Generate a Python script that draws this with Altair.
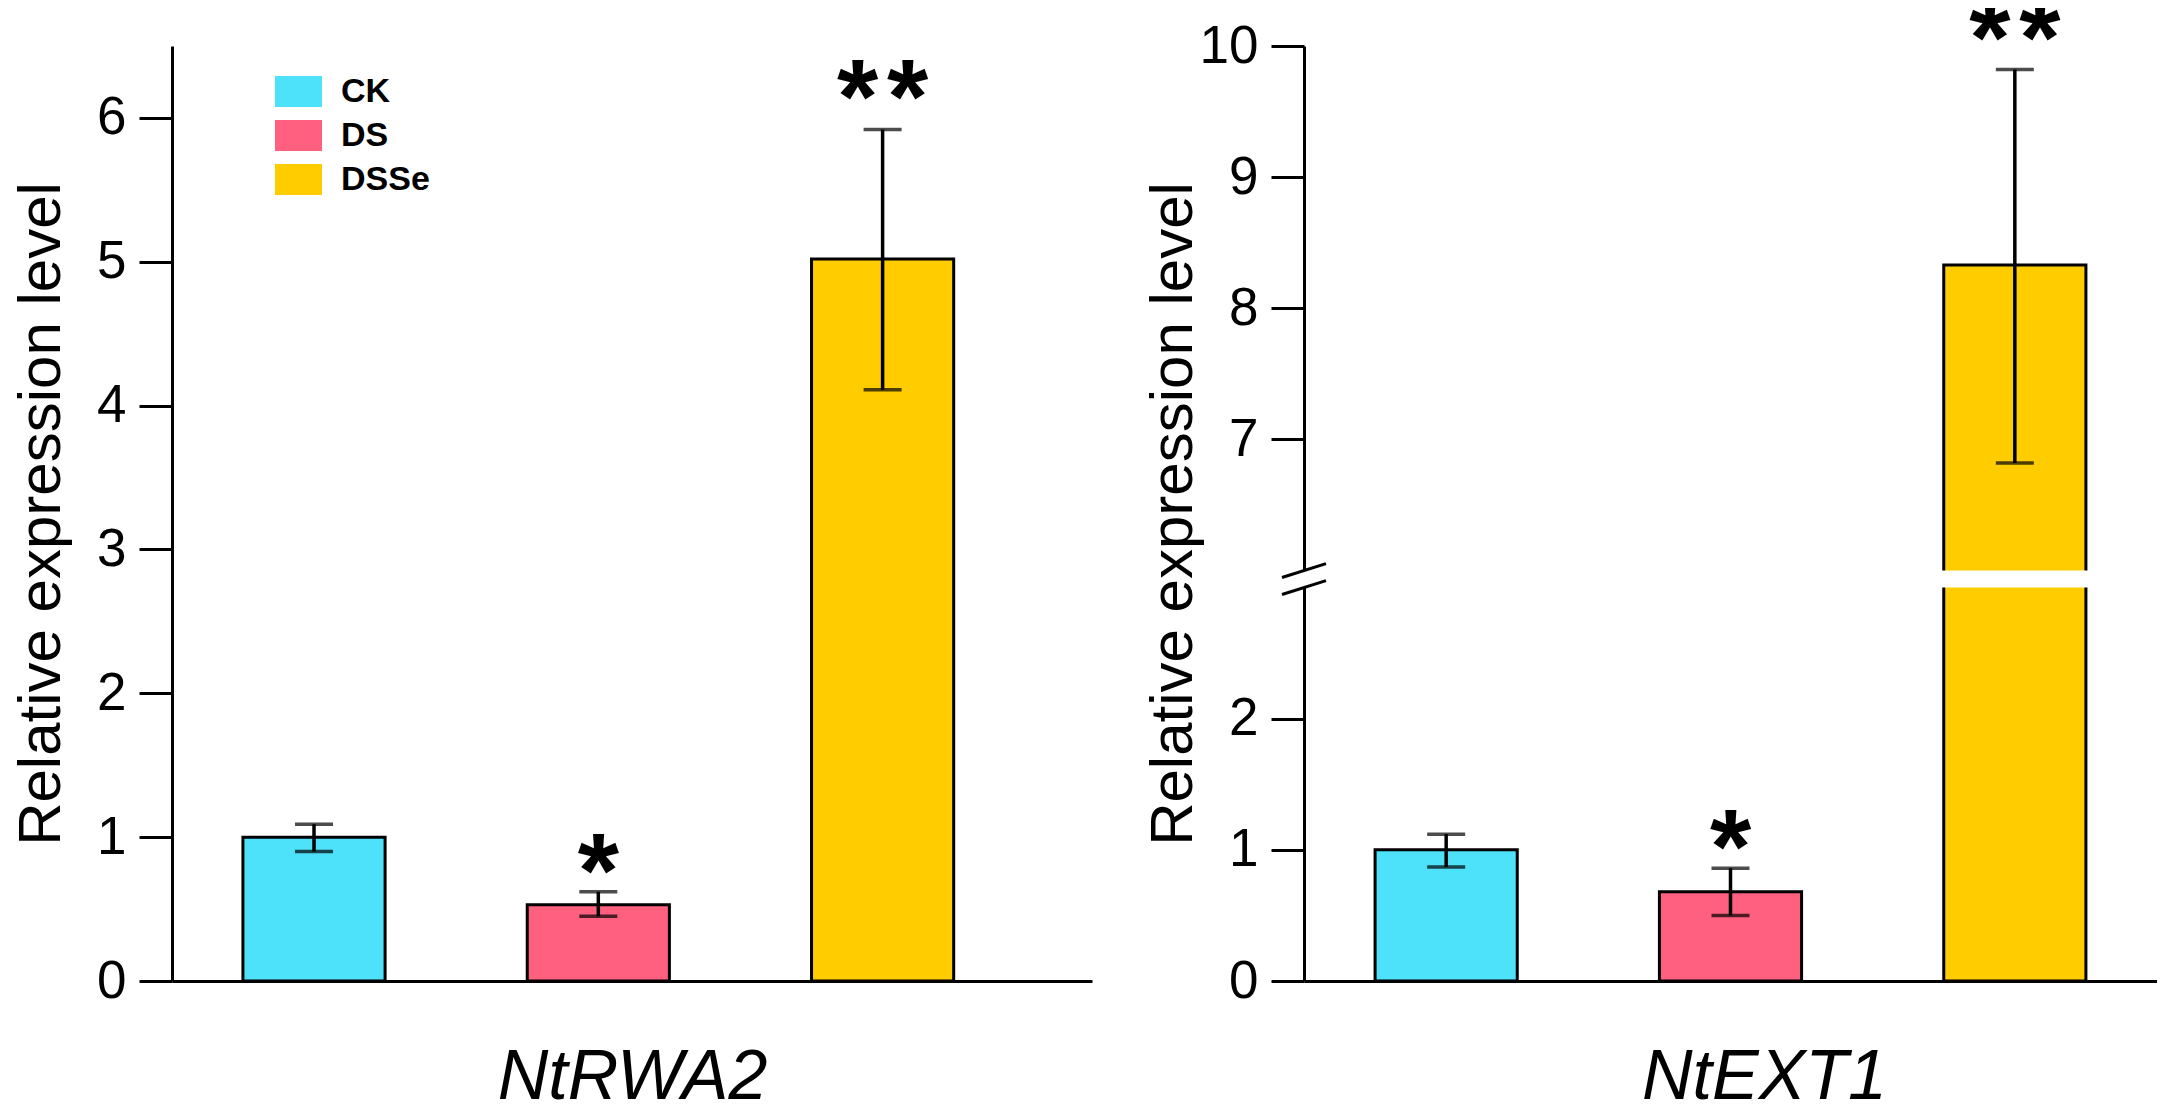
import altair as alt
import pandas as pd

# ---------------- data ----------------
categories = ["CK", "DS", "DSSe"]
bar_colors = ["#4EE1FA", "#FF6080", "#FFCC00"]

rwa2_mean = [1.00, 0.53, 5.02]
rwa2_low = [0.90, 0.45, 4.11]
rwa2_high = [1.09, 0.62, 5.92]
rwa2_sig = ["", "*", "**"]

ext1_mean = [1.00, 0.68, 8.33]
ext1_low = [0.87, 0.50, 6.82]
ext1_high = [1.12, 0.86, 9.82]
ext1_sig = ["", "*", "**"]

left_ticks = [0, 1, 2, 3, 4, 5, 6]
right_ticks = [0, 1, 2, 7, 8, 9, 10]
left_max = 6.5
right_max = 10

# broken axis (right panel)
BREAK_LOW = 3.0    # lower segment ends here
BREAK_HIGH = 6.0   # upper segment starts here
GAP = 0.13         # visual gap, in axis units
OFFSET = BREAK_HIGH - (BREAK_LOW + GAP)


def tr(v):
    return v if v <= BREAK_LOW else v - OFFSET


H = 935
FONT = "Liberation Sans"
STAR_FS = 106


def make_panel(gene, mean, low, high, sig, broken, show_legend, width, p_outer, align):
    f = tr if broken else (lambda v: v)
    df = pd.DataFrame({
        "group": categories,
        "mean": [f(v) for v in mean],
        "low": [f(v) for v in low],
        "high": [f(v) for v in high],
        "sig": [s.replace("**", "*\u200a*") for s in sig],
        "nstar": [s.count("*") for s in sig],
    })
    if broken:
        ticks = [f(v) for v in right_ticks]
        dmax = f(right_max)
        label_expr = (f"datum.value > {BREAK_LOW} ? format(datum.value + {OFFSET}, '.0f')"
                      f" : format(datum.value, '.0f')")
    else:
        ticks = left_ticks
        dmax = left_max
        label_expr = "format(datum.value, '.0f')"

    yscale = alt.Scale(domain=[0, dmax], nice=False, zero=True)
    yaxis = alt.Axis(
        values=ticks, labelExpr=label_expr, title="Relative expression level",
        grid=False, domainColor="black", domainWidth=3, tickColor="black",
        tickWidth=3, tickSize=33, labelPadding=13, labelFontSize=53,
        labelColor="black", labelFont=FONT, labelOverlap=False, labelFlush=False,
        titleFontSize=60, titleFontWeight="normal", titleFont=FONT,
        titleColor="black", titleX=-131, titleY=H / 2, titleBaseline="middle",
        titleAngle=270,
    )
    xscale = alt.Scale(paddingInner=0.5, paddingOuter=p_outer, align=align)
    xenc = alt.X(
        "group:N", sort=categories, scale=xscale,
        axis=alt.Axis(
            title=gene, labels=False, ticks=False, domainColor="black",
            domainWidth=3, titleFontSize=70, titleFontStyle="italic",
            titleFontWeight="normal", titleFont=FONT, titleColor="black",
            titleX=460, titleY=117, titleBaseline="alphabetic",
        ),
    )
    legend = None
    if show_legend:
        legend = alt.Legend(
            orient="none", legendX=103, legendY=22, title=None,
            symbolType="M-1,-0.66H1V0.66H-1Z", symbolSize=2209,
            symbolStrokeWidth=0, symbolOpacity=1, labelFontSize=34,
            labelFontWeight="bold", labelFont=FONT, labelColor="black",
            labelOffset=19, rowPadding=3, padding=0,
        )
    base = alt.Chart(df)
    xg = alt.X("group:N", sort=categories)
    bars = base.mark_bar(stroke="black", strokeWidth=3).encode(
        x=xenc,
        y=alt.Y("mean:Q", scale=yscale, axis=yaxis),
        color=alt.Color("group:N", sort=categories,
                        scale=alt.Scale(domain=categories, range=bar_colors),
                        legend=legend),
    )
    err = base.mark_rule(color="black", strokeWidth=3.5).encode(
        x=xg, y="low:Q", y2="high:Q")
    cap_hi = base.mark_tick(color="black", size=38, thickness=3.5).encode(
        x=xg, y="high:Q")
    cap_lo = base.mark_tick(color="black", size=38, thickness=3.5).encode(
        x=xg, y="low:Q")
    star1 = base.transform_filter("datum.nstar == 1").mark_text(
        fontSize=STAR_FS, fontWeight="bold", font=FONT, baseline="alphabetic",
        dy=15, color="black").encode(x=xg, y="high:Q", text="sig:N")
    star2 = base.transform_filter("datum.nstar == 2").mark_text(
        fontSize=STAR_FS, fontWeight="bold", font=FONT, baseline="alphabetic",
        dy=4, color="black").encode(x=xg, y="high:Q", text="sig:N")
    layers = [bars]
    if broken:
        brk = pd.DataFrame({"lo": [BREAK_LOW], "hi": [BREAK_LOW + GAP]})
        white = alt.Chart(brk).mark_rect(color="white").encode(
            x=alt.value(-25), x2=alt.value(width - 40), y="lo:Q", y2="hi:Q")
        half = 0.053
        marks = pd.DataFrame({
            "ya": [BREAK_LOW - half, BREAK_LOW + GAP - half],
            "yb": [BREAK_LOW + half, BREAK_LOW + GAP + half],
        })
        slash = alt.Chart(marks).mark_rule(color="black", strokeWidth=3).encode(
            x=alt.value(-22), x2=alt.value(22), y="ya:Q", y2="yb:Q")
        layers += [white, slash]
    layers += [err, cap_hi, cap_lo, star1, star2]
    return alt.layer(*layers).properties(
        width=width, height=H,
        view=alt.ViewBackground(stroke="transparent", strokeWidth=0))


left = make_panel("NtRWA2", rwa2_mean, rwa2_low, rwa2_high, rwa2_sig,
                  False, True, 920, 0.368, 0.339)
right = make_panel("NtEXT1", ext1_mean, ext1_low, ext1_high, ext1_sig,
                   True, False, 853, 0.25, 0.5)

chart = alt.hconcat(left, right, spacing=50).resolve_scale(
    color="independent", y="independent", x="independent").resolve_legend(
    color="independent").properties(
    padding={"left": 2, "top": -20, "right": 0, "bottom": 0}
).configure_view(stroke="transparent", strokeWidth=0).configure(
    font=FONT, background="white")

chart.save("out.html", embed_options={"renderer": "svg", "actions": False})
